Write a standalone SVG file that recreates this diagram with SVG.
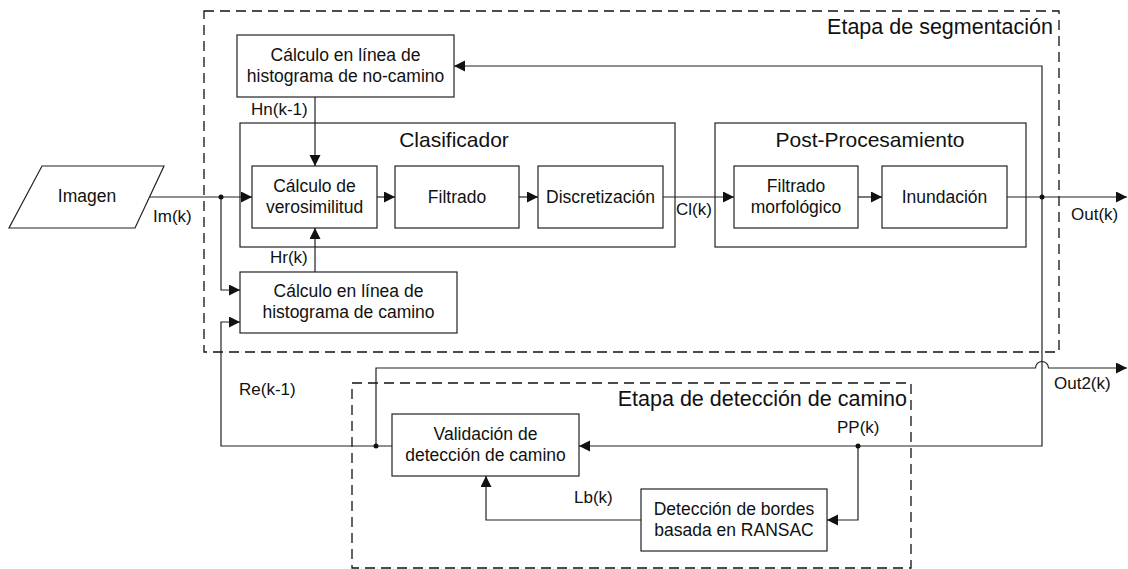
<svg xmlns="http://www.w3.org/2000/svg" width="1128" height="569" viewBox="0 0 1128 569">
<style>
.box{fill:#fff;stroke:#222;stroke-width:1.2}
.grp{fill:none;stroke:#222;stroke-width:1.2}
.dash{fill:none;stroke:#111;stroke-width:1.3;stroke-dasharray:10 6}
.ln{fill:none;stroke:#222;stroke-width:1.2}
.t{font-family:"Liberation Sans",Arial,sans-serif;font-size:17.5px;fill:#111;text-anchor:middle}
.l{font-family:"Liberation Sans",Arial,sans-serif;font-size:17px;fill:#111}
.h{font-family:"Liberation Sans",Arial,sans-serif;font-size:21px;fill:#111;text-anchor:middle}
.s{font-family:"Liberation Sans",Arial,sans-serif;font-size:21.5px;fill:#111;text-anchor:end}
.dot{fill:#111}
</style>
<defs>
<marker id="arr" markerUnits="userSpaceOnUse" markerWidth="12" markerHeight="12" refX="11" refY="5.5" orient="auto">
<path d="M0,0 L11,5.5 L0,11 z" fill="#111"/>
</marker>
</defs>
<rect width="1128" height="569" fill="#fff"/>

<g id="etapa-segmentacion">
<rect class="dash" x="204" y="11" width="855" height="341"/>
<text class="s" x="1053" y="34">Etapa de segmentación</text>
</g>
<g id="etapa-deteccion">
<rect class="dash" x="352" y="383" width="559" height="185"/>
<text class="s" x="907" y="406">Etapa de detección de camino</text>
</g>

<g id="clasificador">
<rect class="grp" x="240" y="123" width="435" height="124"/>
<text class="h" x="454" y="147">Clasificador</text>
</g>
<g id="post-procesamiento">
<rect class="grp" x="715" y="123" width="311" height="124"/>
<text class="h" x="870" y="147">Post-Procesamiento</text>
</g>

<g id="imagen">
<polygon class="box" points="42,166 164,166 135,228 9,228"/>
<text class="t" x="87" y="202">Imagen</text>
</g>
<g id="hist-no-camino">
<rect class="box" x="237" y="35" width="217" height="62"/>
<text class="t" x="345.5" y="61">Cálculo en línea de</text>
<text class="t" x="345.5" y="82">histograma de no-camino</text>
</g>
<g id="verosimilitud">
<rect class="box" x="252" y="166" width="125" height="62"/>
<text class="t" x="314.5" y="192">Cálculo de</text>
<text class="t" x="314.5" y="213">verosimilitud</text>
</g>
<g id="filtrado">
<rect class="box" x="395" y="166" width="124" height="62"/>
<text class="t" x="457" y="203">Filtrado</text>
</g>
<g id="discretizacion">
<rect class="box" x="538" y="166" width="125" height="62"/>
<text class="t" x="600.5" y="203">Discretización</text>
</g>
<g id="filtrado-morfologico">
<rect class="box" x="734" y="166" width="124" height="62"/>
<text class="t" x="796" y="192">Filtrado</text>
<text class="t" x="796" y="213">morfológico</text>
</g>
<g id="inundacion">
<rect class="box" x="882" y="166" width="125" height="62"/>
<text class="t" x="944.5" y="203">Inundación</text>
</g>
<g id="hist-camino">
<rect class="box" x="240" y="272" width="217" height="61"/>
<text class="t" x="348.5" y="297">Cálculo en línea de</text>
<text class="t" x="348.5" y="318">histograma de camino</text>
</g>
<g id="validacion">
<rect class="box" x="392" y="414" width="187" height="62"/>
<text class="t" x="485.5" y="440">Validación de</text>
<text class="t" x="485.5" y="461">detección de camino</text>
</g>
<g id="ransac">
<rect class="box" x="641" y="489" width="186" height="62"/>
<text class="t" x="734" y="515">Detección de bordes</text>
<text class="t" x="734" y="536">basada en RANSAC</text>
</g>

<g id="connectors">
<path class="ln" d="M149.5,197 L252,197" marker-end="url(#arr)"/>
<path class="ln" d="M221,197 L221,290 L240,290" marker-end="url(#arr)"/>
<path class="ln" d="M377,197 L395,197" marker-end="url(#arr)"/>
<path class="ln" d="M519,197 L538,197" marker-end="url(#arr)"/>
<path class="ln" d="M663,197 L734,197" marker-end="url(#arr)"/>
<path class="ln" d="M858,197 L882,197" marker-end="url(#arr)"/>
<path class="ln" d="M1007,197 L1127,197" marker-end="url(#arr)"/>
<path class="ln" d="M315,97 L315,166" marker-end="url(#arr)"/>
<path class="ln" d="M315,272 L315,228" marker-end="url(#arr)"/>
<path class="ln" d="M1042,197 L1042,66 L454,66" marker-end="url(#arr)"/>
<path class="ln" d="M1042,197 L1042,446 L579,446" marker-end="url(#arr)"/>
<path class="ln" d="M858,446 L858,520 L827,520" marker-end="url(#arr)"/>
<path class="ln" d="M641,520 L486,520 L486,476" marker-end="url(#arr)"/>
<path class="ln" d="M392,446 L221,446 L221,322 L240,322" marker-end="url(#arr)"/>
<path class="ln" d="M376,446 L376,368 L1035.5,368 A6.5,6.5 0 0 1 1048.5,368 L1127,368" marker-end="url(#arr)"/>
<circle class="dot" cx="221" cy="197" r="2.5"/>
<circle class="dot" cx="1042" cy="197" r="2.5"/>
<circle class="dot" cx="858" cy="446" r="2.5"/>
<circle class="dot" cx="376" cy="446" r="2.5"/>
<text class="l" x="153" y="222">Im(k)</text>
<text class="l" x="251" y="115">Hn(k-1)</text>
<text class="l" x="270" y="263">Hr(k)</text>
<text class="l" x="676" y="215">Cl(k)</text>
<text class="l" x="1071" y="220">Out(k)</text>
<text class="l" x="1054" y="389">Out2(k)</text>
<text class="l" x="239" y="395">Re(k-1)</text>
<text class="l" x="837" y="433">PP(k)</text>
<text class="l" x="574" y="503">Lb(k)</text>
</g>
</svg>
